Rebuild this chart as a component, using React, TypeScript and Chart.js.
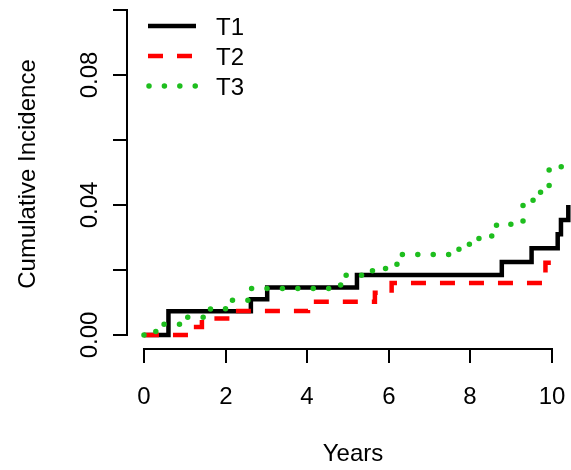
import React, { useEffect, useRef } from "react";
import { Chart, registerables } from "chart.js";

Chart.register(...registerables);

// ---- data ----
const seriesNames = ["T1", "T2", "T3"];

const t1Times = [0, 0.6, 2.62, 3.02, 5.22, 8.77, 9.5, 10.14, 10.22, 10.4];
const t1Values = [0, 0.0073, 0.011, 0.0146, 0.0185, 0.0225, 0.0267, 0.031, 0.0354, 0.04];

const t2Times = [0, 1.2, 1.42, 2.2, 4.02, 5.66, 6.07, 9.84, 10.25];
const t2Values = [0, 0.0025, 0.0051, 0.0074, 0.0102, 0.013, 0.016, 0.0222, 0.0222];

const t3Times = [0, 0.29, 1.03, 1.63, 2.06, 2.56, 4.82, 5.6, 6.2, 7.72, 7.96, 8.21, 8.64, 9.29, 9.72, 9.93, 10.32, 10.4];
const t3Values = [0, 0.0033, 0.0055, 0.0081, 0.0107, 0.0143, 0.0184, 0.0205, 0.0248, 0.0265, 0.0279, 0.0305, 0.0341, 0.0415, 0.0458, 0.0518, 0.0535, 0.0535];

const xTickValues = [0, 2, 4, 6, 8, 10];
const xTickLabels = ["0", "2", "4", "6", "8", "10"];
const yTickValues = [0, 0.02, 0.04, 0.06, 0.08, 0.1];
const yTickLabels = ["0.00", "", "0.04", "", "0.08", ""];
const xTitle = "Years";
const yTitle = "Cumulative Incidence";

const FONT = '24px "Liberation Sans", Arial, Helvetica, sans-serif';

const toPoints = (times: number[], values: number[]) =>
  times.map((t, i) => ({ x: t, y: values[i] }));

// R-style axes drawn through the chart's own scales
const rAxesPlugin = {
  id: "rAxes",
  afterDatasetsDraw(chart: any) {
    const ctx = chart.ctx as CanvasRenderingContext2D;
    const xs = chart.scales.x;
    const ys = chart.scales.y;
    const area = chart.chartArea;
    ctx.save();
    ctx.strokeStyle = "#000";
    ctx.fillStyle = "#000";
    ctx.lineWidth = 2;
    ctx.lineCap = "butt";
    ctx.font = FONT;

    // x axis
    const axY = area.bottom + 1;
    const tickLen = 14;
    ctx.beginPath();
    ctx.moveTo(xs.getPixelForValue(xTickValues[0]) - 1, axY);
    ctx.lineTo(xs.getPixelForValue(xTickValues[xTickValues.length - 1]) + 1, axY);
    ctx.stroke();
    ctx.textAlign = "center";
    ctx.textBaseline = "alphabetic";
    xTickValues.forEach((v, i) => {
      const px = Math.round(xs.getPixelForValue(v));
      ctx.beginPath();
      ctx.moveTo(px, axY);
      ctx.lineTo(px, axY + tickLen);
      ctx.stroke();
      ctx.fillText(xTickLabels[i], px, axY + 55);
    });
    ctx.fillText(xTitle, (area.left + area.right) / 2 + 4, axY + 112);

    // y axis
    const axX = area.left;
    ctx.beginPath();
    ctx.moveTo(axX, ys.getPixelForValue(yTickValues[0]) + 1);
    ctx.lineTo(axX, ys.getPixelForValue(yTickValues[yTickValues.length - 1]) - 1);
    ctx.stroke();
    yTickValues.forEach((v, i) => {
      const py = Math.round(ys.getPixelForValue(v));
      ctx.beginPath();
      ctx.moveTo(axX, py);
      ctx.lineTo(axX - tickLen, py);
      ctx.stroke();
      if (yTickLabels[i]) {
        ctx.save();
        ctx.translate(axX - 30, py);
        ctx.rotate(-Math.PI / 2);
        ctx.textAlign = "center";
        ctx.textBaseline = "alphabetic";
        ctx.fillText(yTickLabels[i], 0, 0);
        ctx.restore();
      }
    });
    ctx.save();
    ctx.translate(35, (area.top + area.bottom) / 2);
    ctx.rotate(-Math.PI / 2);
    ctx.textAlign = "center";
    ctx.textBaseline = "alphabetic";
    ctx.fillText(yTitle, 0, 0);
    ctx.restore();

    ctx.restore();
  },
};

// R-style legend drawn from the dataset styles
const rLegendPlugin = {
  id: "rLegend",
  afterDatasetsDraw(chart: any) {
    const ctx = chart.ctx as CanvasRenderingContext2D;
    const area = chart.chartArea;
    const x0 = area.left + 21;
    const x1 = area.left + 69;
    const textX = area.left + 89;
    ctx.save();
    ctx.font = FONT;
    ctx.textAlign = "left";
    ctx.textBaseline = "alphabetic";
    chart.data.datasets.forEach((ds: any, i: number) => {
      const y = area.top + 26 + i * 30;
      ctx.save();
      ctx.strokeStyle = ds.borderColor;
      ctx.lineWidth = ds.borderWidth;
      ctx.lineCap = ds.borderCapStyle || "butt";
      ctx.setLineDash(ds.borderDash || []);
      ctx.beginPath();
      const start = ds.borderCapStyle === "round" ? x0 + 1 : x0;
      ctx.moveTo(start, y);
      ctx.lineTo(x1, y);
      ctx.stroke();
      ctx.restore();
      ctx.fillStyle = "#000";
      ctx.fillText(ds.label, textX, y + 9);
    });
    ctx.restore();
  },
};

export default function App() {
  const canvasRef = useRef<HTMLCanvasElement | null>(null);

  useEffect(() => {
    if (!canvasRef.current) return;
    const chart = new Chart(canvasRef.current, {
      type: "line",
      data: {
        datasets: [
          {
            label: seriesNames[0],
            data: toPoints(t1Times, t1Values),
            borderColor: "#000000",
            borderWidth: 4.5,
            borderCapStyle: "butt",
            stepped: true,
            pointRadius: 0,
            fill: false,
            order: 3,
          },
          {
            label: seriesNames[1],
            data: toPoints(t2Times, t2Values),
            borderColor: "#ff0000",
            borderWidth: 4.5,
            borderCapStyle: "butt",
            borderDash: [15, 14],
            stepped: true,
            pointRadius: 0,
            fill: false,
            order: 2,
          },
          {
            label: seriesNames[2],
            data: toPoints(t3Times, t3Values),
            borderColor: "#1ebe1e",
            borderWidth: 5.5,
            borderCapStyle: "round",
            borderDash: [0.01, 15.4],
            stepped: true,
            pointRadius: 0,
            fill: false,
            order: 1,
          },
        ],
      } as any,
      options: {
        responsive: false,
        animation: false,
        devicePixelRatio: 1,
        events: [],
        layout: { padding: { left: 127, right: 0, top: 0, bottom: 122 } },
        scales: {
          x: { type: "linear", display: false, min: -0.416, max: 10.466 },
          y: { type: "linear", display: false, min: -0.004, max: 0.10308 },
        },
        plugins: {
          legend: { display: false },
          tooltip: { enabled: false },
        },
      } as any,
      plugins: [rAxesPlugin, rLegendPlugin],
    });
    return () => chart.destroy();
  }, []);

  return (
    <div style={{ position: "absolute", left: 0, top: 0, width: 571, height: 470, background: "#fff" }}>
      <canvas ref={canvasRef} width={571} height={470} style={{ display: "block", width: 571, height: 470 }} />
    </div>
  );
}
